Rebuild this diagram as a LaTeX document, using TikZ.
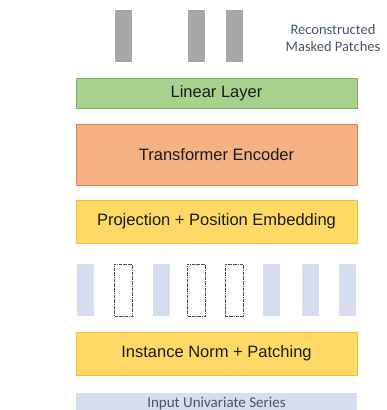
\documentclass[tikz,border=0pt]{standalone}
\usepackage{fontspec}
\setmainfont{Liberation Sans}
\newfontfamily\calfont{Carlito}
\definecolor{greenfill}{HTML}{A9D18E}
\definecolor{greenline}{HTML}{7FB35F}
\definecolor{orangefill}{HTML}{F4B183}
\definecolor{orangeline}{HTML}{E2865A}
\definecolor{yellowfill}{HTML}{FFD966}
\definecolor{yellowline}{HTML}{EEC02E}
\definecolor{bluefill}{HTML}{D6DDEF}
\definecolor{grayfill}{HTML}{A8A6A6}
\definecolor{textgray}{HTML}{1A1A1A}
\definecolor{labelcol}{HTML}{44546A}
\tikzset{
  blockbox/.style={draw=#1line, fill=#1fill, line width=0.8pt, minimum width=281pt, inner sep=0pt, text=textgray, font=\fontsize{16.5}{18}\selectfont},
  patchbox/.style={fill=bluefill, minimum width=17pt, minimum height=52pt, inner sep=0pt},
  maskbox/.style={draw=black!70, densely dashdotted, line width=0.5pt, minimum width=18pt, minimum height=52pt, inner sep=0pt},
  outbox/.style={fill=grayfill, minimum width=17pt, minimum height=52pt, inner sep=0pt},
  caption/.style={font=\calfont\fontsize{14.5}{17}\selectfont, text=labelcol, align=center}
}
\begin{document}
\begin{tikzpicture}[x=1pt,y=-1pt]
\useasboundingbox (0,0) rectangle (386,410);
% reconstructed patches
\node[outbox] (o1) at (123.5,36) {};
\node[outbox] (o2) at (196.5,36) {};
\node[outbox] (o3) at (234.5,36) {};
\node[caption] (rlab) at (333,38) {Reconstructed\\Masked Patches};
% blocks
\node[blockbox=green, minimum height=30pt] (lin) at (216.5,93) {Linear Layer};
\node[blockbox=orange, minimum height=61pt] (enc) at (216.5,154.5) {Transformer Encoder};
\node[blockbox=yellow, minimum height=43pt] (proj) at (216.5,221.5) {Projection + Position Embedding};
% patches
\node[patchbox] (p1) at (85.5,290) {};
\node[maskbox] (p2) at (123.5,290) {};
\node[patchbox] (p3) at (161,290) {};
\node[maskbox] (p4) at (196.5,290) {};
\node[maskbox] (p5) at (234,290) {};
\node[patchbox] (p6) at (271.5,290) {};
\node[patchbox] (p7) at (310,290) {};
\node[patchbox] (p8) at (347.5,290) {};
\node[blockbox=yellow, minimum height=43pt] (norm) at (216.5,353.5) {Instance Norm + Patching};
\node[fill=bluefill, minimum width=281pt, minimum height=20pt, inner sep=0pt, anchor=north, font=\calfont\fontsize{15}{17}\selectfont, text=labelcol] (inp) at (216.5,393) {Input Univariate Series};
\end{tikzpicture}
\end{document}
